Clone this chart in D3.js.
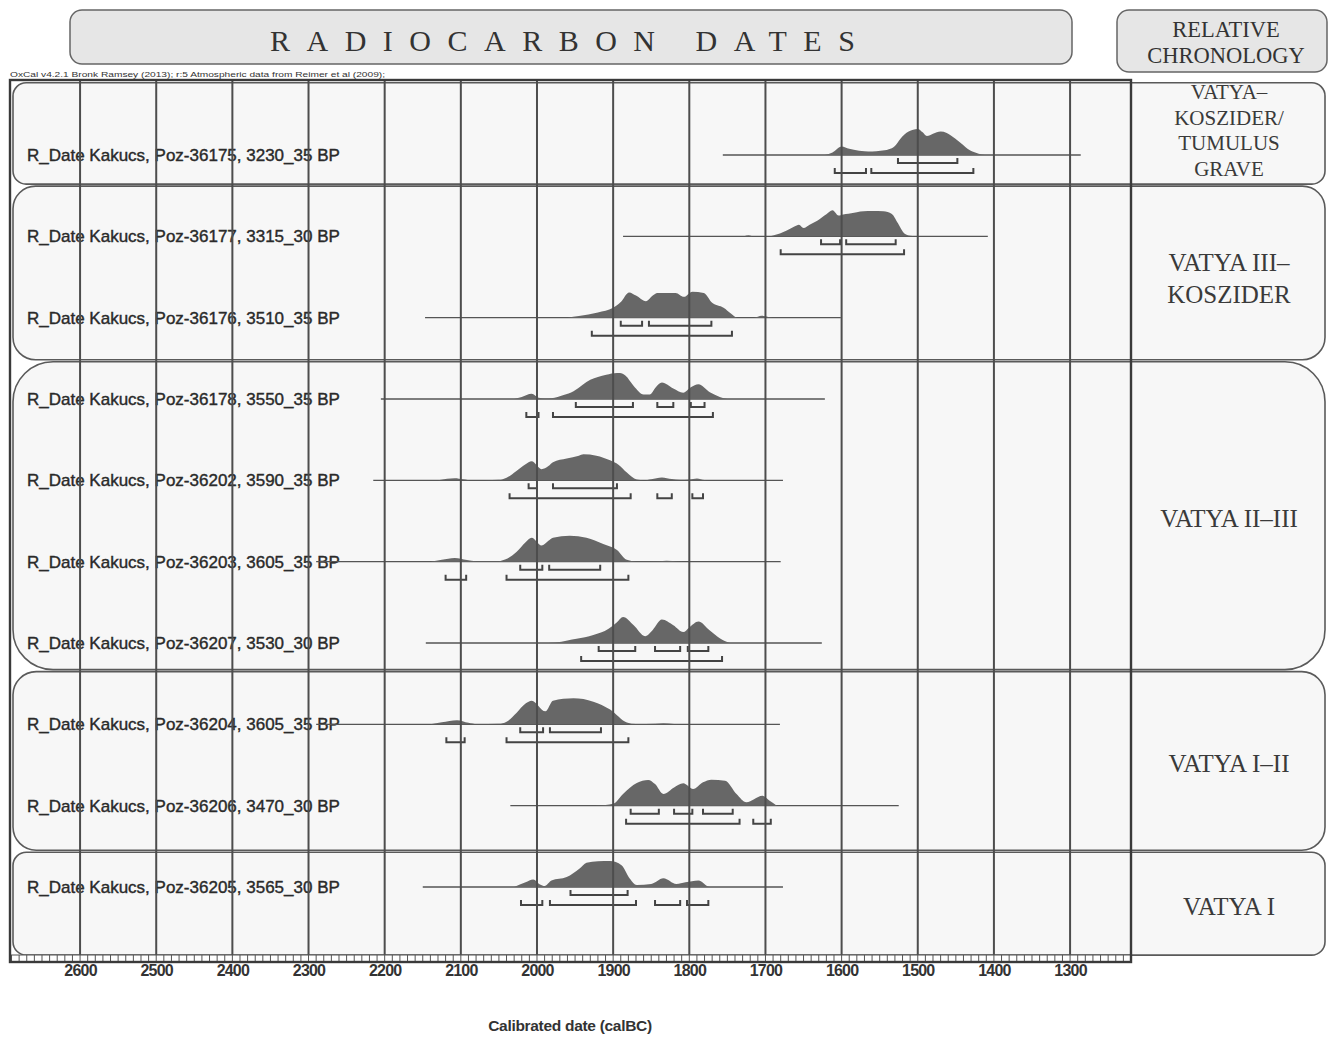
<!DOCTYPE html>
<html>
<head>
<meta charset="utf-8">
<script src="https://cdn.jsdelivr.net/npm/d3@7"></script>
<style>
body { margin: 0; background: #fff; }
</style>
</head>
<body>
<svg id="chart" width="1330" height="1037"></svg>
<script>
// sample ids and conventional ages, top to bottom
var labCodes = ["Poz-36175", "Poz-36177", "Poz-36176", "Poz-36178", "Poz-36202",
                "Poz-36203", "Poz-36207", "Poz-36204", "Poz-36206", "Poz-36205"];
var bpAges   = [3230, 3315, 3510, 3550, 3590, 3605, 3530, 3605, 3470, 3565];
var bpErrors = [35, 30, 35, 35, 35, 35, 30, 35, 30, 30];

// extent of the calibration line (calBC)
var lineFrom = [1756, 1887, 2147, 2205, 2215, 2290, 2146, 2290, 2035, 2150];
var lineTo   = [1286, 1408, 1601, 1622, 1677, 1680, 1626, 1681, 1525, 1677];

// probability distributions [calBC, relative density]
var densities = [
  [[1622,0],[1612,0.1],[1600,0.33],[1590,0.24],[1584,0.2],[1570,0.14],[1560,0.13],[1549,0.16],[1538,0.22],[1530,0.35],[1523,0.62],[1512,0.9],[1500,1.0],[1494,0.88],[1488,0.73],[1480,0.82],[1470,0.9],[1462,0.85],[1457,0.76],[1444,0.47],[1431,0.17],[1420,0.05],[1412,0]],
  [[1728,0],[1722,0.04],[1716,0],[1695,0],[1690,0.03],[1672,0.22],[1662,0.38],[1656,0.45],[1650,0.32],[1642,0.45],[1632,0.6],[1620,0.85],[1612,1.0],[1604,0.8],[1598,0.84],[1591,0.87],[1580,0.93],[1571,0.96],[1560,0.97],[1545,0.96],[1534,0.86],[1526,0.5],[1518,0.12],[1510,0.02],[1504,0]],
  [[1960,0],[1945,0.06],[1920,0.2],[1900,0.38],[1890,0.6],[1879,0.97],[1870,0.85],[1857,0.63],[1848,0.85],[1842,0.95],[1830,0.95],[1818,0.95],[1807,0.8],[1796,1.0],[1781,0.95],[1770,0.57],[1755,0.38],[1745,0.15],[1737,0],[1715,0],[1705,0.07],[1696,0.03],[1690,0]],
  [[2030,0],[2020,0.08],[2007,0.2],[1998,0.05],[1990,0.02],[1981,0.03],[1965,0.15],[1952,0.3],[1940,0.55],[1930,0.74],[1920,0.85],[1909,0.93],[1895,1.0],[1891,1.0],[1884,0.9],[1873,0.5],[1860,0.17],[1852,0.17],[1844,0.45],[1836,0.63],[1821,0.4],[1808,0.24],[1798,0.45],[1788,0.57],[1773,0.26],[1760,0.08],[1750,0]],
  [[2130,0],[2118,0.06],[2108,0.08],[2097,0.04],[2085,0],[2050,0.02],[2040,0.1],[2027,0.36],[2015,0.62],[2007,0.73],[1994,0.43],[1985,0.55],[1979,0.7],[1961,0.84],[1945,0.95],[1939,1.0],[1922,0.95],[1904,0.77],[1893,0.6],[1882,0.3],[1869,0.03],[1860,0],[1850,0.04],[1836,0.11],[1823,0.05],[1812,0.02],[1800,0.03],[1790,0.07],[1780,0.01],[1770,0]],
  [[2140,0],[2125,0.07],[2108,0.14],[2092,0.06],[2080,0.02],[2050,0.02],[2042,0.08],[2027,0.37],[2015,0.75],[2007,0.92],[1994,0.62],[1985,0.8],[1979,0.92],[1957,1.0],[1935,0.92],[1913,0.68],[1895,0.45],[1882,0.07],[1870,0.01],[1840,0.02],[1830,0.04],[1815,0.01],[1800,0]],
  [[1985,0],[1976,0.02],[1960,0.1],[1948,0.16],[1926,0.31],[1906,0.55],[1895,0.8],[1887,1.0],[1873,0.68],[1858,0.26],[1848,0.5],[1836,0.9],[1821,0.68],[1808,0.42],[1800,0.6],[1788,0.83],[1773,0.48],[1760,0.18],[1747,0]],
  [[2140,0],[2125,0.08],[2105,0.16],[2090,0.06],[2079,0.01],[2050,0.02],[2040,0.1],[2027,0.44],[2015,0.8],[2007,0.91],[1989,0.5],[1979,0.91],[1952,1.0],[1926,0.87],[1904,0.57],[1882,0.07],[1870,0.01],[1845,0.02],[1834,0.04],[1820,0.01],[1800,0]],
  [[1925,0],[1910,0.03],[1900,0.07],[1887,0.45],[1869,0.87],[1854,0.99],[1845,0.83],[1834,0.45],[1820,0.7],[1808,0.86],[1795,0.64],[1782,0.9],[1771,1.0],[1753,0.96],[1738,0.45],[1725,0.13],[1715,0.25],[1704,0.38],[1695,0.2],[1685,0]],
  [[2030,0],[2015,0.18],[2005,0.29],[1996,0.1],[1990,0.04],[1981,0.25],[1961,0.38],[1944,0.71],[1935,0.93],[1920,0.99],[1904,1.0],[1889,0.84],[1878,0.32],[1869,0.08],[1850,0.12],[1834,0.34],[1817,0.12],[1805,0.18],[1788,0.25],[1773,0],[1760,0]]
];

// 68.2% and 95.4% ranges (calBC)
var range68 = [
  [[1526,1448]],
  [[1627,1602],[1594,1529]],
  [[1890,1862],[1853,1771]],
  [[1949,1874],[1842,1821],[1798,1780]],
  [[2011,2000],[1979,1895]],
  [[2022,1993],[1984,1917]],
  [[1919,1871],[1845,1812],[1802,1775]],
  [[2022,1992],[1983,1916]],
  [[1877,1840],[1820,1796],[1782,1743]],
  [[1956,1881]]
];
var range95 = [
  [[1609,1568],[1561,1427]],
  [[1680,1518]],
  [[1928,1744]],
  [[2014,1998],[1979,1769]],
  [[2036,1877],[1842,1823],[1796,1782]],
  [[2120,2093],[2040,1880]],
  [[1942,1757]],
  [[2119,2095],[2040,1880]],
  [[1883,1734],[1716,1693]],
  [[2021,1993],[1983,1870],[1845,1812],[1803,1775]]
];

// relative chronology periods and the rows they cover
var periodLabels = [["VATYA–", "KOSZIDER/", "TUMULUS", "GRAVE"], ["VATYA III–", "KOSZIDER"],
                    ["VATYA II–III"], ["VATYA I–II"], ["VATYA I"]];
var periodFirst = [0, 1, 3, 7, 9];
var periodLast  = [0, 2, 6, 8, 9];
// box edges, in row units
var periodEdges = [-0.9, 0.37, 2.53, 6.34, 8.56, 9.85];

var axisTicks = d3.range(2600, 1299, -100);

var svg = d3.select("#chart");
var serif = "'Liberation Serif', 'DejaVu Serif', serif";
var sans = "'Liberation Sans', Arial, sans-serif";

var x = d3.scaleLinear().domain([2692, 1220]).range([10, 1131]);
var rowY = d3.scaleLinear().domain([0, 9]).range([155, 887]);
var hgt = d3.scaleLinear().domain([0, 1]).range([0, -26]);

var plotTop = 80, plotBottom = 962;

// headers
svg.append("rect").attr("x", 70).attr("y", 10).attr("width", 1002).attr("height", 54)
  .attr("rx", 12).attr("fill", "#e6e6e6").attr("stroke", "#666").attr("stroke-width", 1.5);
svg.append("text").attr("x", 270).attr("y", 51)
  .attr("font-family", serif).attr("font-size", 30).attr("letter-spacing", 16.5)
  .attr("fill", "#333").text("RADIOCARBON DATES");

svg.append("rect").attr("x", 1117).attr("y", 10).attr("width", 210).attr("height", 62)
  .attr("rx", 12).attr("fill", "#e6e6e6").attr("stroke", "#666").attr("stroke-width", 1.5);
svg.selectAll("text.rel").data(["RELATIVE", "CHRONOLOGY"]).enter().append("text")
  .attr("class", "rel").attr("x", 1226).attr("y", function(d, i) { return 37 + i * 26; })
  .attr("text-anchor", "middle").attr("font-family", serif).attr("font-size", 22.5)
  .attr("fill", "#333").text(function(d) { return d; });

svg.append("text").attr("x", 10).attr("y", 77).attr("textLength", 375)
  .attr("lengthAdjust", "spacingAndGlyphs")
  .attr("font-family", sans).attr("font-size", 8).attr("fill", "#333")
  .text("OxCal v4.2.1 Bronk Ramsey (2013); r:5 Atmospheric data from Reimer et al (2009);");

// period boxes
var boxes = svg.append("g");
periodLabels.forEach(function(lines, i) {
  var y0 = rowY(periodEdges[i]) + 1, y1 = rowY(periodEdges[i + 1]) - 1;
  var r = (y1 - y0) * 0.13;
  boxes.append("rect").attr("x", 13).attr("y", y0).attr("width", 1312).attr("height", y1 - y0)
    .attr("rx", r).attr("fill", "#f7f7f7").attr("stroke", "#5a5a5a").attr("stroke-width", 1.6);
  var fs = lines.length > 2 ? 21 : 25;
  var lh = lines.length > 2 ? 25.5 : 32;
  var cy = (y0 + y1) / 2 + (lines.length == 2 ? 6 : lines.length > 2 ? -3 : 3);
  boxes.selectAll(null).data(lines).enter().append("text")
    .attr("x", 1229)
    .attr("y", function(d, j) { return cy + (j - (lines.length - 1) / 2) * lh + fs * 0.33; })
    .attr("text-anchor", "middle").attr("font-family", serif).attr("font-size", fs)
    .attr("fill", "#3a3a3a").text(function(d) { return d; });
});

// sample labels
svg.append("g").selectAll("text").data(labCodes).enter().append("text")
  .attr("x", 27).attr("y", function(d, i) { return rowY(i) + 6; })
  .attr("font-family", sans).attr("font-size", 17).attr("fill", "#2a2a2a")
  .attr("stroke", "#2a2a2a").attr("stroke-width", 0.4)
  .text(function(d, i) { return "R_Date Kakucs, " + d + ", " + bpAges[i] + "_" + bpErrors[i] + " BP"; });

// distributions
var area = d3.area()
  .x(function(d) { return x(d[0]); })
  .y0(0)
  .y1(function(d) { return hgt(d[1]); })
  .curve(d3.curveMonotoneX);

var rows = svg.append("g").selectAll("g").data(labCodes).enter().append("g")
  .attr("transform", function(d, i) { return "translate(0," + rowY(i) + ")"; });

rows.append("line")
  .attr("x1", function(d, i) { return x(lineFrom[i]); })
  .attr("x2", function(d, i) { return x(lineTo[i]); })
  .attr("stroke", "#555").attr("stroke-width", 1.4);

rows.append("path")
  .attr("d", function(d, i) { return area(densities[i].slice().sort(function(a, b) { return b[0] - a[0]; })); })
  .attr("fill", "#676767");

function bracket(r, off) {
  return "M" + x(r[0]) + "," + (off - 5) + "V" + off + "H" + x(r[1]) + "V" + (off - 5);
}
rows.each(function(d, i) {
  var g = d3.select(this);
  g.selectAll("path.r68").data(range68[i]).enter().append("path").attr("class", "r68")
    .attr("d", function(r) { return bracket(r, 8); });
  g.selectAll("path.r95").data(range95[i]).enter().append("path").attr("class", "r95")
    .attr("d", function(r) { return bracket(r, 18); });
});
rows.selectAll("path.r68, path.r95")
  .attr("fill", "none").attr("stroke", "#444").attr("stroke-width", 2);

// grid
svg.append("g").selectAll("line").data(axisTicks).enter().append("line")
  .attr("x1", function(d) { return x(d); }).attr("x2", function(d) { return x(d); })
  .attr("y1", plotTop).attr("y2", plotBottom)
  .attr("stroke", "#4d4d4d").attr("stroke-width", 2);

// ruler
var ruler = svg.append("g");
ruler.append("rect").attr("x", x(2692)).attr("y", 955).attr("width", x(1220) - x(2692)).attr("height", 7)
  .attr("fill", "#fff").attr("stroke", "#555").attr("stroke-width", 1);
ruler.selectAll("line").data(d3.range(2690, 1220, -10)).enter().append("line")
  .attr("x1", function(d) { return x(d); }).attr("x2", function(d) { return x(d); })
  .attr("y1", 955).attr("y2", 962).attr("stroke", "#555").attr("stroke-width", 1);

// frame
svg.append("rect").attr("x", 10).attr("y", plotTop).attr("width", 1121).attr("height", plotBottom - plotTop)
  .attr("fill", "none").attr("stroke", "#3a3a3a").attr("stroke-width", 2.4);

// axis
var axis = svg.append("g").attr("transform", "translate(0," + plotBottom + ")")
  .call(d3.axisBottom(x).tickValues(axisTicks).tickSize(0).tickPadding(3).tickFormat(d3.format("d")));
axis.select(".domain").remove();
axis.selectAll("text").attr("font-family", sans).attr("font-size", 16).attr("font-weight", "bold")
  .attr("letter-spacing", -0.8).attr("fill", "#333");

svg.append("text").attr("x", 570).attr("y", 1031).attr("text-anchor", "middle")
  .attr("font-family", sans).attr("font-size", 15.5).attr("font-weight", "bold")
  .attr("letter-spacing", -0.3).attr("fill", "#333").text("Calibrated date (calBC)");
</script>
</body>
</html>
